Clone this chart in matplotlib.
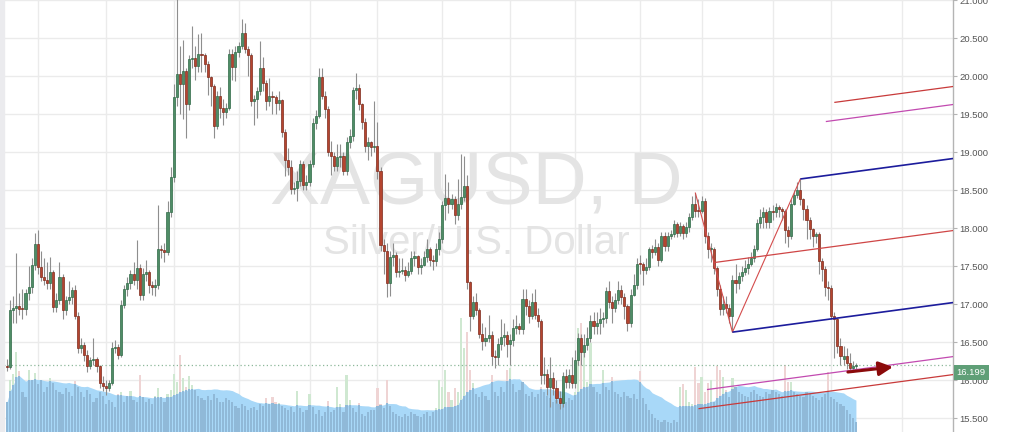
import matplotlib
matplotlib.use('Agg')
import matplotlib.pyplot as plt
import numpy as np
import pandas as pd
from matplotlib.patches import Rectangle

# ---------------- data ----------------
opens = [
16.19,16.17,16.92,16.95,16.98,16.94,16.93,17.14,17.22,17.51,
17.79,17.49,17.36,17.31,17.27,17.42,16.96,17.05,17.36,16.92,
17.05,17.09,17.19,16.84,16.42,16.46,16.33,16.18,16.26,16.27,
16.18,15.96,15.92,15.89,15.96,16.42,16.44,16.33,16.99,17.20,
17.27,17.39,17.31,17.48,17.12,17.39,17.42,17.25,17.23,17.25,
17.73,17.71,17.68,18.21,18.67,19.72,20.03,19.89,20.06,19.63,
20.22,20.24,20.13,20.29,20.28,20.16,19.99,19.87,19.34,19.74,
19.58,19.52,19.58,20.29,20.12,20.31,20.39,20.56,20.35,20.28,
19.67,19.70,19.80,20.11,19.91,19.67,19.74,19.72,19.65,19.69,
19.26,18.89,18.80,18.51,18.53,18.62,18.84,18.56,18.60,18.84,
19.38,19.48,19.99,19.74,19.56,19.00,18.95,18.81,18.93,18.95,
18.75,19.13,19.21,19.81,19.84,19.63,19.39,19.08,19.13,19.07,
19.08,18.75,17.77,17.70,17.27,17.62,17.64,17.42,17.44,17.45,
17.38,17.44,17.60,17.63,17.49,17.51,17.62,17.72,17.58,17.57,
17.72,17.86,18.30,18.40,18.31,18.38,18.17,18.31,18.41,18.55,
17.29,16.84,17.03,16.92,16.61,16.51,16.55,16.59,16.32,16.30,
16.47,16.57,16.59,16.47,16.52,16.68,16.71,16.67,17.07,16.97,
16.84,17.03,16.86,16.78,16.07,16.08,15.91,16.02,15.89,15.76,
15.70,16.05,15.98,16.07,15.96,16.26,16.55,16.37,16.46,16.55,
16.77,16.71,16.75,16.80,16.81,17.17,17.03,16.95,17.05,17.19,
17.09,16.97,16.75,17.12,17.25,17.53,17.52,17.45,17.49,17.72,
17.69,17.75,17.58,17.90,17.76,17.90,17.92,18.05,17.93,18.03,
17.93,18.01,18.15,18.32,18.23,18.22,18.36,17.90,17.72,17.73,
17.47,17.20,16.93,17.00,16.95,16.84,17.31,17.28,17.37,17.42,
17.48,17.53,17.60,17.73,18.07,18.15,18.21,18.08,18.22,18.21,
18.27,18.25,18.22,17.98,17.90,18.32,18.43,18.50,18.38,18.25,
18.11,17.99,17.90,17.92,17.57,17.46,17.22,17.21,16.84,16.80,
16.45,16.28,16.32,16.22,16.16,16.18]

highs = [
16.28,17.05,17.10,17.67,17.15,17.20,17.20,17.50,17.60,17.93,
17.98,17.70,17.60,17.55,17.62,17.45,17.15,17.55,17.40,17.10,
17.30,17.22,17.25,16.90,16.55,16.50,16.40,16.30,16.55,16.30,
16.20,16.05,16.00,16.00,16.50,16.52,16.47,17.05,17.25,17.35,
17.45,17.55,17.84,17.52,17.48,17.58,17.45,17.30,17.33,18.30,
17.78,17.80,18.35,18.80,19.90,21.10,20.40,20.47,20.10,20.28,
20.66,20.40,20.55,20.57,20.30,20.20,20.00,19.90,19.80,19.85,
19.70,19.65,20.35,20.35,20.40,20.45,20.75,20.70,20.40,20.30,
19.75,19.85,20.46,20.25,19.95,19.97,19.80,19.75,19.80,19.70,
19.30,19.05,18.90,18.60,18.75,18.90,18.88,18.70,18.90,19.45,
19.55,20.11,20.11,19.80,19.60,19.15,19.00,19.10,19.10,19.00,
19.20,19.30,19.85,20.04,19.90,19.65,19.45,19.20,19.15,19.67,
19.40,18.80,17.85,17.80,17.70,17.80,17.68,17.60,17.60,17.50,
17.55,17.70,17.70,17.65,17.60,17.70,17.85,17.75,17.65,17.80,
17.95,18.35,18.71,18.60,18.45,18.42,18.65,18.97,18.95,18.70,
17.30,17.10,17.15,16.95,16.75,16.70,16.85,16.65,16.40,16.55,
16.80,16.75,16.65,16.60,16.80,16.85,16.75,17.20,17.20,17.05,
17.15,17.20,16.95,16.80,16.30,16.15,16.30,16.10,16.00,15.85,
16.10,16.15,16.15,16.30,16.40,16.62,16.60,16.60,16.70,16.85,
16.90,16.90,16.95,16.90,17.22,17.30,17.10,17.15,17.30,17.25,
17.15,17.00,17.20,17.40,17.60,17.65,17.55,17.60,17.75,17.78,
17.85,17.80,17.95,17.95,17.95,17.98,18.10,18.08,18.08,18.05,
18.08,18.20,18.42,18.46,18.38,18.42,18.40,17.95,17.80,17.75,
17.50,17.25,17.10,17.10,17.00,17.38,17.52,17.42,17.50,17.58,
17.62,17.68,17.78,18.12,18.25,18.27,18.25,18.28,18.30,18.33,
18.30,18.28,18.25,18.02,18.38,18.50,18.60,18.64,18.40,18.30,
18.15,18.00,17.95,17.95,17.60,17.50,17.30,17.25,16.90,16.82,
16.55,16.45,16.42,16.35,16.25,16.22]

lows = [
16.12,16.15,16.75,16.75,16.85,16.80,16.85,17.05,17.15,17.45,
17.40,17.30,17.25,17.20,17.20,16.90,16.90,17.00,16.80,16.85,
17.00,17.00,16.80,16.35,16.35,16.25,16.10,16.15,16.20,16.10,
15.90,15.85,15.80,15.85,15.93,16.35,16.28,16.30,16.95,17.10,
17.20,17.25,17.20,17.05,17.05,17.30,17.15,17.12,17.10,17.20,
17.60,17.55,17.65,18.15,18.60,19.60,19.50,19.43,19.19,19.55,
20.10,19.95,20.05,20.05,20.05,19.75,19.60,19.19,19.30,19.45,
19.35,19.45,19.55,19.95,19.93,20.25,20.35,20.30,20.00,19.60,
19.35,19.45,19.75,19.80,19.55,19.60,19.50,19.50,19.55,19.20,
18.69,18.70,18.45,18.45,18.36,18.55,18.50,18.50,18.55,18.80,
19.30,19.45,19.70,19.45,18.95,18.70,18.75,18.75,18.80,18.70,
18.70,19.05,19.15,19.70,19.55,19.30,19.00,18.90,18.95,19.00,
18.65,17.70,17.40,17.09,17.10,17.50,17.35,17.35,17.40,17.30,
17.35,17.40,17.50,17.40,17.40,17.50,17.55,17.50,17.45,17.50,
17.65,17.80,18.10,18.20,18.25,18.05,18.10,18.25,18.35,17.20,
16.64,16.80,16.85,16.55,16.40,16.45,16.50,16.20,16.16,16.20,
16.40,16.45,16.30,16.20,16.45,16.60,16.60,16.60,16.85,16.75,
16.80,16.80,16.70,15.95,15.95,15.80,15.65,15.80,15.70,15.62,
15.65,15.90,15.90,15.90,15.90,16.20,16.20,16.30,16.40,16.50,
16.60,16.60,16.60,16.70,16.75,16.95,16.75,16.90,17.00,17.00,
16.80,16.65,16.70,17.10,17.20,17.40,17.25,17.40,17.45,17.60,
17.65,17.50,17.55,17.70,17.70,17.85,17.88,17.88,17.90,17.85,
17.88,17.95,18.10,18.15,18.15,18.20,17.80,17.60,17.55,17.40,
17.10,16.85,16.85,16.88,16.75,16.63,17.15,17.20,17.30,17.38,
17.40,17.50,17.55,17.70,18.00,18.00,18.00,18.00,18.10,18.15,
18.15,18.10,17.80,17.75,17.85,18.30,18.40,18.30,18.10,17.85,
17.85,17.75,17.80,17.40,17.30,17.10,17.05,16.80,16.29,16.35,
16.20,16.20,16.15,16.10,16.10,16.13]

closes = [
16.17,16.92,16.95,16.98,16.94,16.93,17.14,17.23,17.51,17.79,
17.49,17.36,17.31,17.27,17.42,16.96,17.05,17.36,16.92,17.05,
17.09,17.19,16.84,16.42,16.46,16.33,16.18,16.26,16.27,16.18,
15.96,15.92,15.89,15.96,16.42,16.44,16.33,16.99,17.20,17.27,
17.39,17.31,17.48,17.12,17.39,17.42,17.25,17.23,17.25,17.73,
17.71,17.68,18.21,18.67,19.72,20.03,19.89,20.06,19.63,20.22,
20.24,20.13,20.29,20.28,20.16,19.99,19.87,19.34,19.74,19.58,
19.52,19.58,20.29,20.12,20.31,20.39,20.56,20.35,20.28,19.67,
19.70,19.80,20.11,19.91,19.67,19.74,19.72,19.65,19.69,19.26,
18.89,18.80,18.51,18.53,18.62,18.84,18.56,18.60,18.84,19.38,
19.48,19.99,19.74,19.56,19.00,18.95,18.81,18.93,18.95,18.75,
19.13,19.21,19.81,19.84,19.63,19.39,19.08,19.13,19.07,19.08,
18.75,17.77,17.70,17.27,17.62,17.64,17.42,17.44,17.45,17.38,
17.44,17.60,17.63,17.49,17.51,17.62,17.72,17.58,17.57,17.72,
17.86,18.30,18.40,18.31,18.38,18.17,18.31,18.41,18.55,17.29,
16.84,17.03,16.92,16.61,16.51,16.55,16.59,16.32,16.30,16.47,
16.57,16.59,16.47,16.52,16.68,16.71,16.67,17.07,16.97,16.84,
17.03,16.86,16.78,16.07,16.08,15.91,16.02,15.89,15.76,15.70,
16.05,15.98,16.07,15.96,16.26,16.55,16.37,16.46,16.55,16.77,
16.71,16.75,16.80,16.81,17.17,17.03,16.95,17.05,17.19,17.09,
16.97,16.75,17.12,17.25,17.53,17.52,17.45,17.49,17.72,17.69,
17.75,17.58,17.90,17.76,17.90,17.92,18.05,17.93,18.03,17.93,
18.01,18.15,18.32,18.23,18.22,18.36,17.90,17.72,17.73,17.47,
17.20,16.93,17.00,16.95,16.84,17.31,17.28,17.37,17.42,17.48,
17.53,17.60,17.73,18.07,18.15,18.21,18.08,18.22,18.21,18.27,
18.25,18.22,17.98,17.90,18.32,18.43,18.50,18.38,18.25,18.11,
17.99,17.90,17.92,17.57,17.46,17.22,17.21,16.84,16.80,16.45,
16.32,16.32,16.22,16.16,16.18,16.199]

volumes = [
30,52,58,80,61,40,35,62,52,59,
48,52,40,45,54,49,42,40,38,44,
40,36,51,45,40,35,42,38,30,34,
40,36,28,32,30,25,38,40,30,36,
41,32,30,57,35,30,33,28,36,44,
35,30,38,42,58,50,77,54,45,56,
47,42,36,34,32,36,32,38,34,30,
30,34,32,30,26,24,28,26,22,24,
25,22,28,26,34,28,35,30,29,26,
24,22,25,20,41,24,20,22,38,25,
18,22,16,20,31,20,22,45,28,20,
57,32,24,20,29,18,16,20,22,22,
44,28,24,52,26,20,18,16,15,18,
16,20,18,16,15,18,20,16,20,24,
52,45,62,40,32,44,40,114,84,100,
62,49,38,35,40,36,32,57,40,36,
45,40,62,64,48,40,42,50,38,36,
40,35,38,45,40,36,34,30,32,28,
36,30,34,32,40,104,109,80,50,89,
45,40,38,62,45,42,55,40,38,35,
40,36,34,38,33,61,34,28,22,18,
14,12,10,12,10,9,12,10,45,48,
42,30,28,65,49,55,40,49,52,30,
66,62,55,42,35,54,45,40,38,36,
35,40,42,38,36,35,40,38,42,40,
38,36,67,50,50,40,38,36,35,40,
38,36,34,32,35,38,60,35,33,30,
28,26,22,18,14,10]

month_starts = [10, 32, 54, 75, 98, 120, 141, 163, 184, 205, 225, 248, 267, 290]
price_ticks = [15.5, 16.0, 16.5, 17.0, 17.5, 18.0, 18.5, 19.0, 19.5, 20.0, 20.5, 21.0]
last_price = 16.199

# Schiff pitchfork pivots (bar index, price)
pivot_idx = [223, 235, 257]
pivot_price = [18.46, 16.63, 18.645]
fork_extra_levels = [1.75, 2.0]

# arrow drawing (bar index, price)
arrow_idx = [272.4, 287.0]
arrow_price = [16.105, 16.171]

symbol_text = "XAGUSD, D"
description_text = "Silver/U.S. Dollar"

# ---------------- figure ----------------
FONT = 'Liberation Sans'
fig = plt.figure(figsize=(10.24, 4.32), dpi=100)
fig.patch.set_facecolor('white')
ax = fig.add_axes([0, 0, 953 / 1024, 1])
ax.set_facecolor('white')

YMIN, YMAX = 15.316, 21.0
XMIN, XMAX = -2.27, 306.45
ax.set_xlim(XMIN, XMAX)
ax.set_ylim(YMIN, YMAX)

o = np.array(opens); h = np.array(highs); l = np.array(lows); c = np.array(closes)
v = np.array(volumes, dtype=float)
idx = np.arange(len(c))

# grid
for m in month_starts:
    ax.axvline(m, color='#ebebeb', lw=1.0, zorder=0)
for t in price_ticks:
    ax.axhline(t, color='#ebebeb', lw=1.0, zorder=0)

# watermark
ax.text(0.5, 0.530, symbol_text, transform=ax.transAxes, ha='center', va='baseline',
        fontsize=54, color='#e4e4e4', family=FONT, zorder=0.5)
ax.text(0.5, 0.412, description_text, transform=ax.transAxes, ha='center', va='baseline',
        fontsize=29, color='#e4e4e4', family=FONT, zorder=0.5)

# volume pane (shares the bottom of the price pane)
VOL_PANE = 432.0
vscale = (YMAX - YMIN) / VOL_PANE
ma = pd.Series(v).rolling(20, min_periods=1).mean().to_numpy()
up = c >= o
ax.fill_between(idx, YMIN, YMIN + ma * vscale, color='#a8d8f8', lw=0, zorder=1)
lower = np.minimum(v, ma)
upper = v - lower
ax.bar(idx, lower * vscale, bottom=YMIN, width=0.7, color='#90b9d8', lw=0, zorder=2)
pale = np.where(up, '#cfe8d1', '#efd4d4')
ax.bar(idx, upper * vscale, bottom=YMIN + lower * vscale, width=0.7, color=pale, lw=0, zorder=2)

# last price dotted line
ax.axhline(last_price, color='#8db89b', lw=0.9, ls=(0, (1, 2)), zorder=3)

# candles
ax.vlines(idx, l, h, color='#8e8e8e', lw=0.8, zorder=4)
body_bottom = np.minimum(o, c)
body_h = np.maximum(np.abs(c - o), 0.014)
face = np.where(up, '#4f8d66', '#b5452f')
edge = np.where(up, '#2f6a47', '#7d2a1c')
ax.bar(idx, body_h, bottom=body_bottom, width=0.68, color=face, edgecolor=edge, lw=0.5, zorder=5)

# Schiff pitchfork
P = np.column_stack([pivot_idx, pivot_price]).astype(float)
M0 = (P[0] + P[1]) / 2
M1 = (P[1] + P[2]) / 2
d = M1 - M0
w = P[2] - M1

def ray(start, color, lw):
    t = (XMAX + 5 - start[0]) / d[0]
    end = start + d * t
    ax.plot([start[0], end[0]], [start[1], end[1]], color=color, lw=lw, zorder=6,
            solid_capstyle='butt')

ax.plot(P[:, 0], P[:, 1], color='#d44c4c', lw=0.8, zorder=6)
ray(M0, '#cf4646', 0.9)
for k in (1.0, -1.0):
    ray(M1 + k * w, '#1c1c9c', 1.2)
for k in fork_extra_levels:
    col = '#c24ab0' if k < 2 else '#c83a3a'
    ray(M1 + k * w, col, 0.9)
    ray(M1 - k * w, col, 0.9)

# arrow
ax.annotate('', xy=(arrow_idx[1], arrow_price[1]), xytext=(arrow_idx[0], arrow_price[0]),
            arrowprops=dict(arrowstyle='-|>,head_length=0.7,head_width=0.35', lw=2.2,
                            color='#8b0a0a', mutation_scale=12, shrinkA=0, shrinkB=0),
            zorder=7)

# axes styling
for s in ('left', 'top', 'bottom'):
    ax.spines[s].set_visible(False)
ax.spines['right'].set_color('#b4b4b4')
ax.spines['right'].set_linewidth(1.0)
ax.set_xticks([])
ax.yaxis.tick_right()
ax.set_yticks(price_ticks)
ax.set_yticklabels(['{:.3f}'.format(t) for t in price_ticks], family=FONT)
ax.tick_params(axis='y', direction='out', length=3, width=0.8, color='#b4b4b4',
               labelsize=6.8, labelcolor='#555555', pad=1.5)

# last price label
ax.annotate('{:.3f}'.format(last_price), xy=(1, last_price),
            xycoords=('axes fraction', 'data'), xytext=(2.6, -5.6),
            textcoords='offset points', ha='left', va='center', fontsize=6.8,
            color='white', family=FONT, annotation_clip=False,
            bbox=dict(boxstyle='square,pad=0.3', fc='#5f9f77', ec='none'), zorder=10)

# left edge strip
fig.patches.append(Rectangle((0, 0), 4 / 1024, 1, transform=fig.transFigure,
                             color='#ebebee', zorder=10))

fig.savefig('out.png', dpi=100)
